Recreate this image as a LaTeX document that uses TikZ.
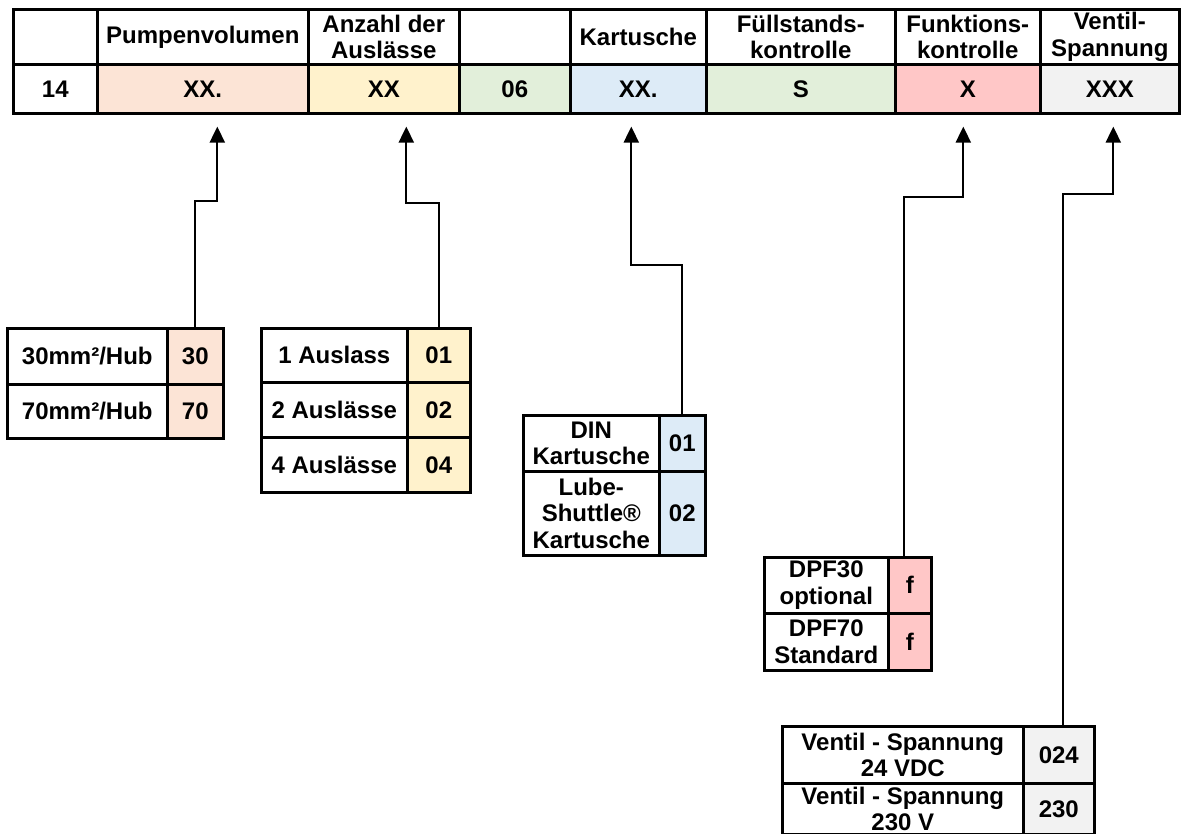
\documentclass[tikz,border=0pt]{standalone}
\usepackage{fontspec}
\setmainfont{Liberation Sans}
\usetikzlibrary{arrows.meta}

\definecolor{peach}{HTML}{FCE4D6}
\definecolor{gelb}{HTML}{FFF2CC}
\definecolor{gruen}{HTML}{E2EFDA}
\definecolor{blau}{HTML}{DDEBF7}
\definecolor{rosa}{HTML}{FFC7C7}
\definecolor{grau}{HTML}{F2F2F2}

\begin{document}
\begin{tikzpicture}[x=1pt, y=-1pt,
        cell/.style={draw, line width=2.6pt, anchor=north west, inner sep=0pt, align=center,
            font=\bfseries\fontsize{24}{26.5}\selectfont},
        pfeil/.style={-{Triangle[length=16pt, width=15pt]}, line width=2.2pt}]
                \useasboundingbox (0,0) rectangle (1181,834);

                % Kopfzeile:
                \node[cell, minimum width=84pt, minimum height=55pt] (h1) at (12,8) {};
                \node[cell, minimum width=211pt, minimum height=55pt] (h2) at (96,8) {Pumpenvolumen};
                \node[cell, minimum width=151pt, minimum height=55pt] (h3) at (307,8) {Anzahl der\\Auslässe};
                \node[cell, minimum width=111pt, minimum height=55pt] (h4) at (458,8) {};
                \node[cell, minimum width=136pt, minimum height=55pt] (h5) at (569,8) {Kartusche};
                \node[cell, minimum width=189pt, minimum height=55pt] (h6) at (705,8) {Füllstands-\\kontrolle};
                \node[cell, minimum width=145pt, minimum height=55pt] (h7) at (894,8) {Funktions-\\kontrolle};
                \node[cell, minimum width=139pt, minimum height=55pt] (h8) at (1039,8) {Ventil-\\Spannung};

                % Code-Zeile:
                \node[cell, minimum width=84pt, minimum height=49pt] (v1) at (12,63) {14};
                \node[cell, fill=peach, minimum width=211pt, minimum height=49pt] (v2) at (96,63) {XX.};
                \node[cell, fill=gelb, minimum width=151pt, minimum height=49pt] (v3) at (307,63) {XX};
                \node[cell, fill=gruen, minimum width=111pt, minimum height=49pt] (v4) at (458,63) {06};
                \node[cell, fill=blau, minimum width=136pt, minimum height=49pt] (v5) at (569,63) {XX.};
                \node[cell, fill=gruen, minimum width=189pt, minimum height=49pt] (v6) at (705,63) {S};
                \node[cell, fill=rosa, minimum width=145pt, minimum height=49pt] (v7) at (894,63) {X};
                \node[cell, fill=grau, minimum width=139pt, minimum height=49pt] (v8) at (1039,63) {XXX};

                % Pumpenvolumen:
                \node[cell, minimum width=160pt, minimum height=56pt] (o1a) at (6,327) {30mm²/Hub};
                \node[cell, fill=peach, minimum width=56pt, minimum height=56pt] (c1a) at (166,327) {30};
                \node[cell, minimum width=160pt, minimum height=54pt] (o1b) at (6,383) {70mm²/Hub};
                \node[cell, fill=peach, minimum width=56pt, minimum height=54pt] (c1b) at (166,383) {70};

                % Auslaesse:
                \node[cell, minimum width=146pt, minimum height=54pt] (o2a) at (260,327) {1 Auslass};
                \node[cell, fill=gelb, minimum width=63pt, minimum height=54pt] (c2a) at (406,327) {01};
                \node[cell, minimum width=146pt, minimum height=55pt] (o2b) at (260,381) {2 Auslässe};
                \node[cell, fill=gelb, minimum width=63pt, minimum height=55pt] (c2b) at (406,381) {02};
                \node[cell, minimum width=146pt, minimum height=55pt] (o2c) at (260,436) {4 Auslässe};
                \node[cell, fill=gelb, minimum width=63pt, minimum height=55pt] (c2c) at (406,436) {04};

                % Kartusche:
                \node[cell, minimum width=136pt, minimum height=56pt] (o3a) at (522,414) {DIN\\Kartusche};
                \node[cell, fill=blau, minimum width=46pt, minimum height=56pt] (c3a) at (658,414) {01};
                \node[cell, minimum width=136pt, minimum height=84pt] (o3b) at (522,470) {Lube-\\Shuttle®\\Kartusche};
                \node[cell, fill=blau, minimum width=46pt, minimum height=84pt] (c3b) at (658,470) {02};

                % Funktionskontrolle:
                \node[cell, minimum width=124pt, minimum height=56pt] (o4a) at (763,556) {DPF30\\optional};
                \node[cell, fill=rosa, minimum width=43pt, minimum height=56pt] (c4a) at (887,556) {f};
                \node[cell, minimum width=124pt, minimum height=57pt] (o4b) at (763,612) {DPF70\\Standard};
                \node[cell, fill=rosa, minimum width=43pt, minimum height=57pt] (c4b) at (887,612) {f};

                % Ventil-Spannung:
                \node[cell, minimum width=241pt, minimum height=57pt] (o5a) at (781,725) {Ventil - Spannung\\24 VDC};
                \node[cell, fill=grau, minimum width=71pt, minimum height=57pt] (c5a) at (1022,725) {024};
                \node[cell, minimum width=241pt, minimum height=51pt] (o5b) at (781,782) {Ventil - Spannung\\230 V};
                \node[cell, fill=grau, minimum width=71pt, minimum height=51pt] (c5b) at (1022,782) {230};

                % Pfeile:
                \coordinate (t2) at ([xshift=14.5pt, yshift=-12pt]v2.south);
                \coordinate (t3) at ([xshift=22.5pt, yshift=-12pt]v3.south);
                \coordinate (t5) at ([xshift=-7pt, yshift=-12pt]v5.south);
                \coordinate (t7) at ([xshift=-4.5pt, yshift=-12pt]v7.south);
                \coordinate (t8) at ([xshift=3.5pt, yshift=-12pt]v8.south);
                \draw[pfeil] (c1a.north) -- ++(0,-126) -| (t2);
                \draw[pfeil] (c2a.north) -- ++(0,-124) -| (t3);
                \draw[pfeil] (c3a.north) -- ++(0,-149) -| (t5);
                \draw[pfeil] ([xshift=-6pt]c4a.north) -- ++(0,-359) -| (t7);
                \draw[pfeil] ([xshift=4.5pt]c5a.north) -- ++(0,-531) -| (t8);
            \end{tikzpicture}
\end{document}
